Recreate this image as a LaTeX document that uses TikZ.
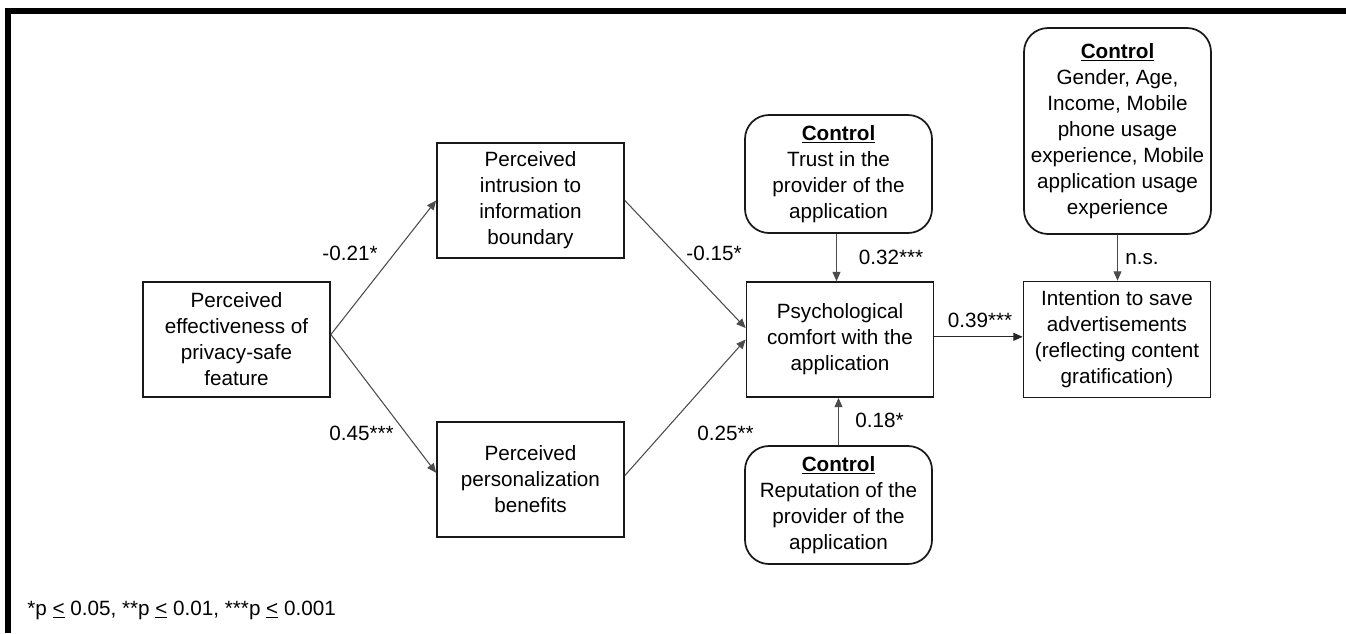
\documentclass[tikz,border=0pt]{standalone}
\usepackage{fontspec}
\setmainfont{Liberation Sans}
\usetikzlibrary{arrows.meta}

\tikzset{
  txt/.style={font=\fontsize{15.5}{19.5}\selectfont, text=black, align=center},
  varbox/.style={txt, draw=black!90, line width=1.3pt, inner sep=0pt,
    minimum width=140.25pt, minimum height=86.25pt},
  ctrlbox/.style={txt, draw=black!90, line width=1.3pt, inner sep=0pt,
    rounded corners=18pt, minimum width=140.25pt, minimum height=88.5pt},
  path/.style={draw=black!70, line width=0.8pt,
    -{Triangle[length=7pt,width=6pt]}},
  coef/.style={txt, inner sep=0pt}
}

\begin{document}
\begin{tikzpicture}[x=0.75pt, y=-0.75pt]
  \useasboundingbox (0,0) rectangle (1346,633);

  % frame along the top and left edges
  \fill[black] (5,8) rectangle (1346,14);
  \fill[black] (5,8) rectangle (11,633);

  % constructs
  \node[varbox] (eff) at (236.5,339.5) {Perceived\\effectiveness of\\privacy-safe\\feature};
  \node[varbox] (intr) at (530.5,200.5) {Perceived\\intrusion to\\information\\boundary};
  \node[varbox] (pers) at (530.5,479.5) {Perceived\\personalization\\benefits};
  \node[varbox] (comf) at (840,339.5) {Psychological\\comfort with the\\application};
  \node[varbox, minimum height=87pt] (intent) at (1117,339.5) {Intention to save\\advertisements\\(reflecting content\\gratification)};

  % control variables
  \node[ctrlbox] (trust) at (838.5,174) {\underline{\textbf{Control}}\\Trust in the\\provider of the\\application};
  \node[ctrlbox] (repu) at (838.5,505) {\underline{\textbf{Control}}\\Reputation of the\\provider of the\\application};
  \node[ctrlbox, minimum height=154.5pt] (demo) at (1117.5,131) {\underline{\textbf{Control}}\\Gender, Age,\\Income, Mobile\\phone usage\\experience, Mobile\\application usage\\experience};

  % paths
  \draw[path] ([yshift=3.75pt]eff.east) -- (intr.west);
  \draw[path] ([yshift=3.75pt]eff.east) -- ([yshift=5pt]pers.west);
  \draw[path] (intr.east) -- ([yshift=8.6pt]comf.west);
  \draw[path] ([yshift=3pt]pers.east) -- (comf.west);
  \draw[path] ([xshift=-1.5pt]trust.south) -- ([xshift=-1.5pt]trust.south |- comf.north);
  \draw[path] (repu.north) -- (repu.north |- comf.south);
  \draw[path, draw=black!85] ([yshift=2pt]comf.east) -- ([yshift=2pt]comf.east -| intent.west);
  \draw[path] (demo.south) -- (demo.south |- intent.north);

  % path coefficients
  \node[coef] (c1) at (350,253) {-0.21*};
  \node[coef] (c2) at (361.5,433) {0.45***};
  \node[coef] (c3) at (714,253) {-0.15*};
  \node[coef] (c4) at (725.5,433.5) {0.25**};
  \node[coef] (c5) at (891,257.5) {0.32***};
  \node[coef] (c6) at (879.5,420.5) {0.18*};
  \node[coef] (c7) at (980,320) {0.39***};
  \node[coef] (c8) at (1142,259) {n.s.};

  % significance legend
  \node[coef, anchor=west] (note) at (27,610) {*p \underline{<} 0.05, **p \underline{<} 0.01, ***p \underline{<} 0.001};
\end{tikzpicture}
\end{document}
